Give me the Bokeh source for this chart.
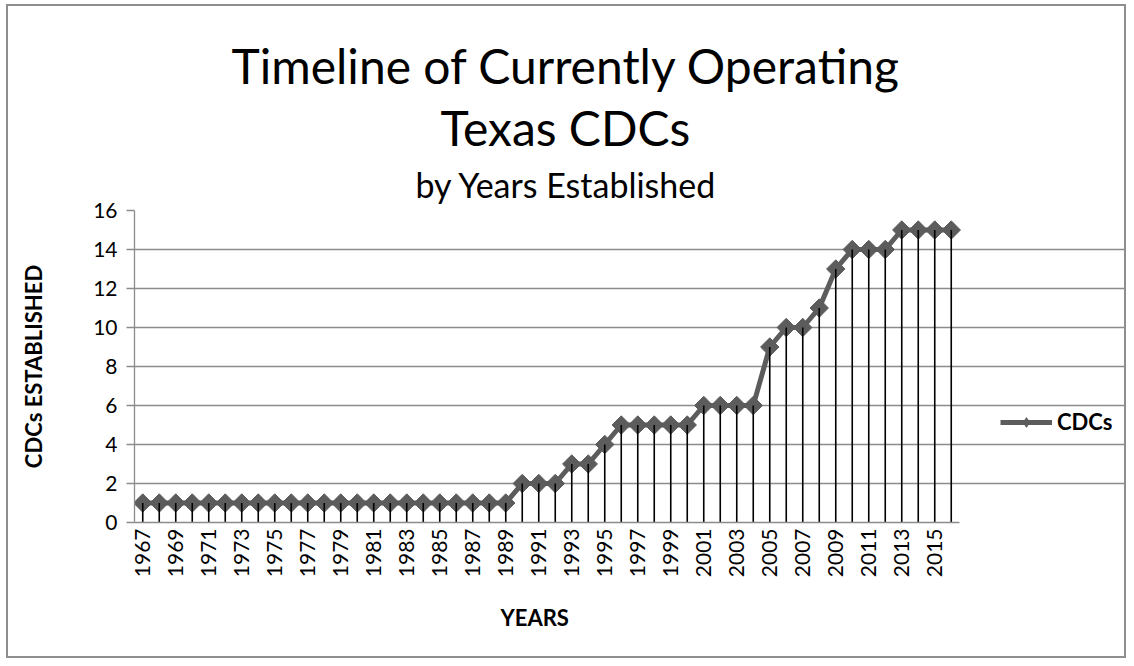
import math

from bokeh.embed import file_html
from bokeh.models import (ColumnDataSource, FixedTicker, Legend, LegendItem,
                          Range1d, Title)
from bokeh.plotting import figure
from bokeh.resources import INLINE

# Year each currently operating CDC count refers to, and the cumulative count
years = list(range(1967, 2017))
cdcs = [1] * 23 + [2, 2, 2, 3, 3, 4, 5, 5, 5, 5, 5, 6, 6, 6, 6,
                   9, 10, 10, 11, 13, 14, 14, 14, 15, 15, 15, 15]

title_lines = ["Timeline of Currently Operating", "Texas CDCs"]
subtitle = "by Years Established"
x_title = "YEARS"
y_title = "CDCs ESTABLISHED"
series_name = "CDCs"
y_ticks = list(range(0, 17, 2))

LINE = "#5c5c5c"
GRID = "#8c8c8c"
BODY_FONT = "Lato"
TITLE_FONT = "Lato"

# page geometry: the drawing area runs to the chart's right edge so the
# legend sits inside it; the data block keeps its own width
W, H = 1120, 654
LEFT, BOTTOM, TOP = 126, 138, 204
DATA_W = 825
n = len(years)
y_top = y_ticks[-1]
frame_w = W - LEFT
x_end = -0.5 + n * frame_w / DATA_W

idx = list(range(n))
src = ColumnDataSource(dict(x=idx, y=cdcs, base=[0] * n))

p = figure(width=W, height=H, output_backend="svg", toolbar_location=None,
           title=None,
           x_range=Range1d(-0.5, x_end), y_range=Range1d(0, y_top),
           min_border_left=LEFT, min_border_right=0,
           min_border_top=TOP, min_border_bottom=BOTTOM)
p.outline_line_color = None
p.background_fill_color = "white"
p.border_fill_color = "white"
# thin grey frame around the whole chart
p.styles = {"border": "2px solid #8e8e8e", "margin": "4px 0px 0px 6px"}

# gridlines: horizontal only, limited to the category span
p.xgrid.visible = False
p.ygrid.grid_line_color = GRID
p.ygrid.grid_line_width = 1.3
p.ygrid.ticker = FixedTicker(ticks=y_ticks)
p.ygrid.bounds = (-0.5, n - 0.5)

# y axis
ya = p.yaxis[0]
ya.ticker = FixedTicker(ticks=y_ticks)
ya.bounds = (0, y_top)
ya.axis_line_color = GRID
ya.axis_line_width = 1.3
ya.major_tick_line_color = GRID
ya.major_tick_line_width = 1.3
ya.major_tick_out = 8
ya.major_tick_in = 0
ya.minor_tick_line_color = None
ya.major_label_standoff = 9
ya.major_label_text_font = BODY_FONT
ya.major_label_text_font_size = "21px"
ya.major_label_text_color = "black"
ya.axis_label = y_title
ya.axis_label_text_font = BODY_FONT
ya.axis_label_text_font_style = "bold"
ya.axis_label_text_font_size = "22px"
ya.axis_label_text_color = "black"
ya.axis_label_standoff = 43

# x axis: every other year labelled, text reading upwards
xa = p.xaxis[0]
xa.ticker = FixedTicker(ticks=idx[::2])
xa.bounds = (-0.5, n - 0.5)
xa.major_label_overrides = {i: str(years[i]) for i in idx}
xa.major_label_orientation = math.pi / 2
xa.axis_line_color = GRID
xa.axis_line_width = 1.3
xa.major_tick_line_color = None
xa.major_tick_out = 0
xa.major_tick_in = 0
xa.minor_tick_line_color = None
xa.major_label_standoff = 6
xa.major_label_text_font = BODY_FONT
xa.major_label_text_font_size = "21px"
xa.major_label_text_color = "black"

# x axis title, placed under the middle of the data block
p.add_layout(Title(text=x_title, align="left", offset=366,
                   standoff=42, text_font=BODY_FONT, text_font_style="bold",
                   text_font_size="22px", text_color="black"), "below")

# series line with diamond markers, then drop lines to the baseline
line_r = p.line("x", "y", source=src, line_color=LINE, line_width=5)
# small diamonds beneath the main markers; they give the legend its swatch
swatch = p.scatter("x", "y", source=src, marker="diamond", size=11,
                   fill_color=LINE, line_color=LINE)
mark_r = p.scatter("x", "y", source=src, marker="square", angle=math.pi / 4,
                   size=13, fill_color=LINE, line_color=LINE)
p.segment("x", "base", "x", "y", source=src, line_color="black", line_width=1.6)

legend = Legend(items=[LegendItem(label=series_name, renderers=[line_r, swatch])],
                location=(866, 87), orientation="vertical",
                glyph_width=52, glyph_height=24, label_height=24,
                label_standoff=5, padding=0, margin=0,
                border_line_color=None, background_fill_alpha=0,
                label_text_font=BODY_FONT, label_text_font_style="bold",
                label_text_font_size="22px", label_text_color="black")
p.add_layout(legend, "center")

# three-line heading above the plot, nearest line added first
for text, size, standoff, offset in [(subtitle, "34px", 12, 281),
                                     (title_lines[1], "48px", 0, 306),
                                     (title_lines[0], "48px", 6, 97)]:
    p.add_layout(Title(text=text, align="left", offset=offset,
                       text_font=TITLE_FONT, text_font_size=size,
                       text_font_style="normal", text_color="black",
                       standoff=standoff), "above")

open("out.html", "w").write(file_html(p, INLINE))
